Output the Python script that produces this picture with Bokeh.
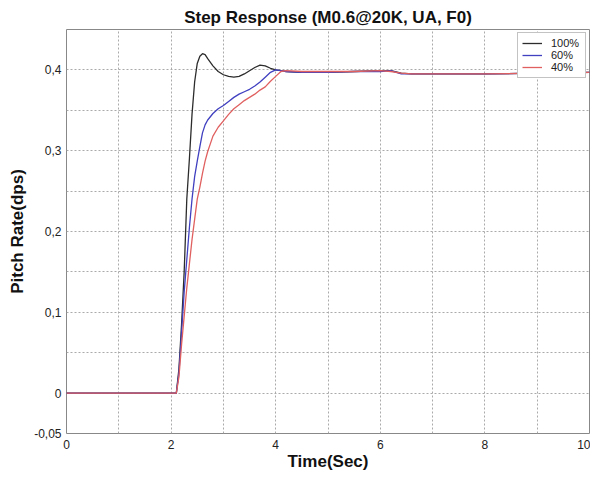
from bokeh.plotting import figure
from bokeh.models import FixedTicker, CustomJSTickFormatter, Range1d, Legend, LegendItem
from bokeh.embed import file_html
from bokeh.resources import INLINE

title = "Step Response (M0.6@20K, UA, F0)"
x_label = "Time(Sec)"
y_label = "Pitch Rate(dps)"
series_names = ["100%", "60%", "40%"]

t = [0, 2.10, 2.15, 2.20, 2.25, 2.30, 2.35, 2.40, 2.45, 2.50, 2.55, 2.60, 2.65, 2.70,
     2.80, 2.90, 3.00, 3.10, 3.20, 3.30, 3.40, 3.50, 3.60, 3.70, 3.80, 3.90, 4.00,
     4.10, 4.20, 4.50, 5.00, 5.50, 6.00, 6.20, 6.40, 6.60, 7.00, 8.00, 9.00, 10.00]

r100 = [0, 0, 0.030, 0.085, 0.150, 0.240, 0.290, 0.345, 0.385, 0.408, 0.417, 0.420, 0.419, 0.414,
        0.405, 0.398, 0.394, 0.392, 0.391, 0.392, 0.395, 0.399, 0.403, 0.406, 0.405, 0.402, 0.400,
        0.399, 0.398, 0.397, 0.397, 0.398, 0.399, 0.399, 0.396, 0.395, 0.395, 0.395, 0.396, 0.397]

r60 = [0, 0, 0.025, 0.075, 0.125, 0.165, 0.205, 0.240, 0.268, 0.287, 0.305, 0.322, 0.332, 0.338,
       0.346, 0.352, 0.356, 0.361, 0.366, 0.370, 0.373, 0.376, 0.380, 0.385, 0.391, 0.397, 0.400,
       0.399, 0.398, 0.397, 0.397, 0.398, 0.398, 0.399, 0.395, 0.395, 0.395, 0.395, 0.396, 0.397]

r40 = [0, 0, 0.020, 0.060, 0.095, 0.130, 0.160, 0.190, 0.215, 0.240, 0.255, 0.272, 0.287, 0.299,
       0.318, 0.329, 0.337, 0.345, 0.352, 0.357, 0.362, 0.366, 0.370, 0.375, 0.379, 0.386, 0.392,
       0.398, 0.399, 0.398, 0.398, 0.398, 0.399, 0.398, 0.396, 0.395, 0.395, 0.395, 0.396, 0.397]

x_ticks = [0, 2, 4, 6, 8, 10]
x_minor = [1, 3, 5, 7, 9]
y_ticks = [-0.05, 0, 0.1, 0.2, 0.3, 0.4]
y_minor = [0.05, 0.15, 0.25, 0.35, 0.45]

colors = ["#2c2c2c", "#4040c0", "#e06060"]

p = figure(width=590, height=473, output_backend="svg", toolbar_location=None,
           x_range=Range1d(0, 10), y_range=Range1d(-0.05, 0.45),
           min_border_left=66, min_border_right=1, min_border_top=29, min_border_bottom=37)

p.title.text = title
p.title.align = "center"
p.title.text_font = "Liberation Sans"
p.title.text_font_size = "17px"
p.title.text_font_style = "bold"
p.title.text_color = "#111111"
p.title.offset = 0
p.title.standoff = 6

renderers = []
for ys, c in zip([r100, r60, r40], colors):
    renderers.append(p.line(t, ys, line_color=c, line_width=1.3))

legend = Legend(items=[LegendItem(label=n, renderers=[r]) for n, r in zip(series_names, renderers)],
                location="top_right")
legend.label_text_font = "Liberation Sans"
legend.label_text_font_size = "11px"
legend.label_text_color = "#222222"
legend.glyph_width = 20
legend.glyph_height = 12
legend.label_height = 12
legend.label_width = 30
legend.spacing = 0
legend.padding = 4
legend.margin = 3
legend.label_standoff = 9
legend.border_line_color = "#888888"
legend.border_line_width = 1
legend.background_fill_alpha = 1
p.add_layout(legend)

fmt = CustomJSTickFormatter(code="""
if (Math.abs(tick) < 1e-9) return "0";
return (Math.round(tick*100)/100).toString().replace(".", ",");
""")

p.xaxis.ticker = FixedTicker(ticks=x_ticks, minor_ticks=x_minor)
p.yaxis.ticker = FixedTicker(ticks=y_ticks, minor_ticks=y_minor)
p.yaxis.formatter = fmt

for ax in [p.xaxis[0], p.yaxis[0]]:
    ax.axis_line_color = None
    ax.major_tick_line_color = None
    ax.minor_tick_line_color = None
    ax.major_tick_in = 0
    ax.major_tick_out = 0
    ax.minor_tick_in = 0
    ax.minor_tick_out = 0
    ax.major_label_text_font = "Liberation Sans"
    ax.major_label_text_font_size = "12px"
    ax.major_label_text_color = "#222222"
    ax.axis_label_text_font = "Liberation Sans"
    ax.axis_label_text_font_size = "17px"
    ax.axis_label_text_font_style = "bold"
    ax.axis_label_text_color = "#111111"

p.xaxis.axis_label = x_label
p.yaxis.axis_label = y_label
p.xaxis.major_label_standoff = 6
p.xaxis.axis_label_standoff = 0
p.yaxis.major_label_standoff = 5
p.yaxis.axis_label_standoff = 4

for g in [p.xgrid[0], p.ygrid[0]]:
    g.grid_line_color = "#aaaaaa"
    g.grid_line_dash = "2 2"
    g.grid_line_width = 1
    g.minor_grid_line_color = "#aaaaaa"
    g.minor_grid_line_dash = "2 2"
    g.minor_grid_line_width = 1

p.outline_line_color = "#888888"
p.outline_line_width = 1
p.background_fill_color = "white"
p.border_fill_color = "white"

open("out.html", "w").write(file_html(p, INLINE))
